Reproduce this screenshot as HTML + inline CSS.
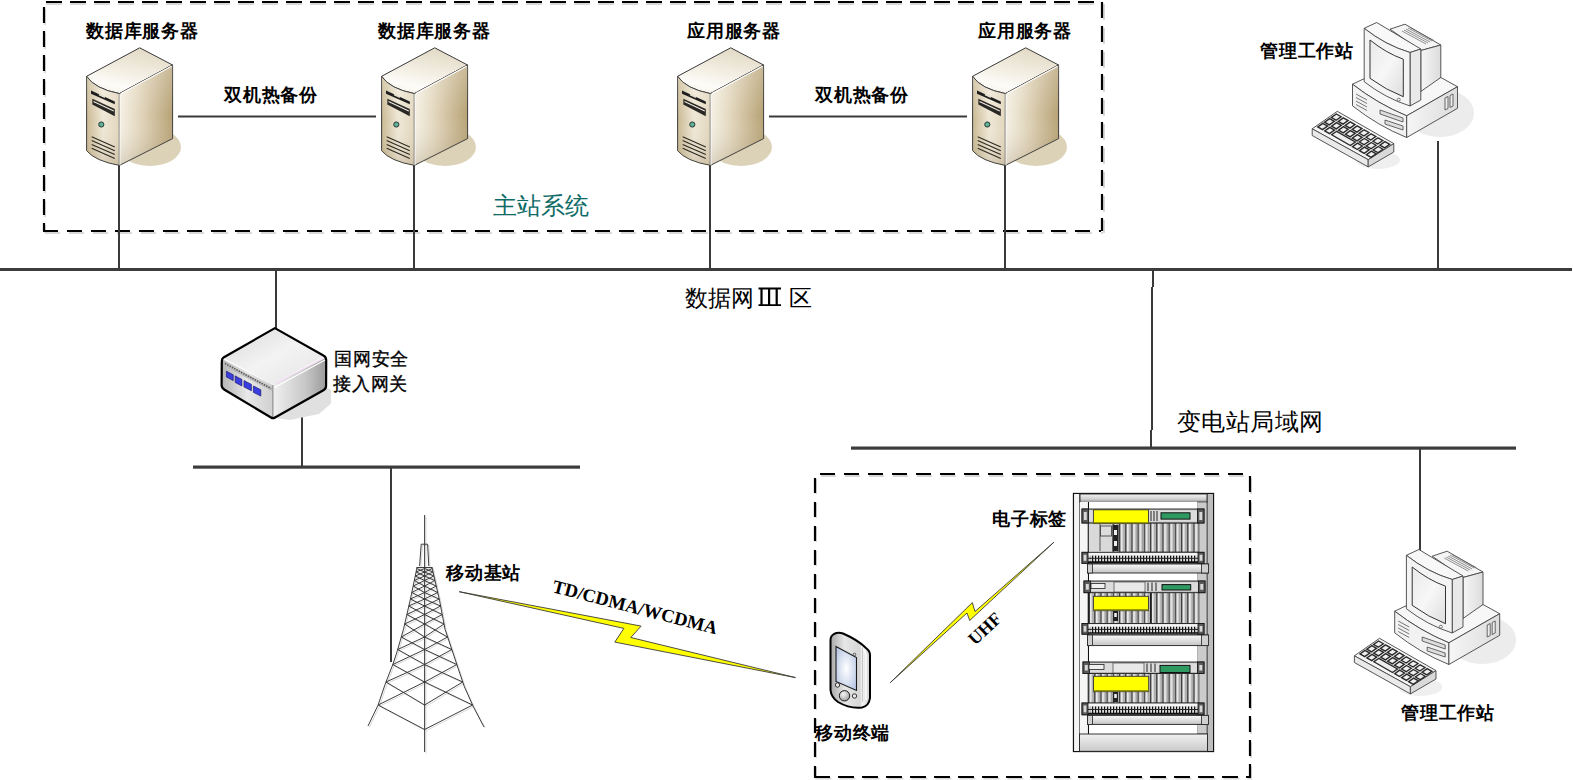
<!DOCTYPE html>
<html><head><meta charset="utf-8">
<style>
html,body{margin:0;padding:0;background:#fff;width:1573px;height:780px;overflow:hidden}
svg{display:block}
text{font-family:"Liberation Serif",serif;fill:#000}
.lb{font-size:18px;font-weight:bold}
.lr{font-size:18px}
.big{font-size:23px}
</style></head><body>
<svg width="1573" height="780" viewBox="0 0 1573 780">
<defs>
<linearGradient id="sTop" x1="0.7" y1="0" x2="0.35" y2="1">
<stop offset="0" stop-color="#e2d9c4"/><stop offset="0.55" stop-color="#f3efe4"/><stop offset="0.85" stop-color="#fdfcf9"/><stop offset="1" stop-color="#f7f3ea"/></linearGradient>
<linearGradient id="sShade" x1="0" y1="0" x2="0" y2="1">
<stop offset="0" stop-color="#ffffff" stop-opacity="0.25"/><stop offset="0.5" stop-color="#ffffff" stop-opacity="0"/><stop offset="1" stop-color="#7a6640" stop-opacity="0.22"/></linearGradient>
<linearGradient id="sSide" x1="0" y1="0" x2="1" y2="0">
<stop offset="0" stop-color="#f6f1e6"/><stop offset="0.35" stop-color="#e4d9c1"/><stop offset="1" stop-color="#b7a275"/></linearGradient>
<linearGradient id="sFront" x1="0" y1="0" x2="1" y2="0">
<stop offset="0" stop-color="#c9b891"/><stop offset="0.5" stop-color="#efe7d6"/><stop offset="1" stop-color="#e2d6bd"/></linearGradient>
<linearGradient id="gTop" x1="0" y1="0" x2="1" y2="1">
<stop offset="0" stop-color="#d8d8d8"/><stop offset="0.5" stop-color="#f3f3f3"/><stop offset="1" stop-color="#e4e4e4"/></linearGradient>
<linearGradient id="gSide" x1="0" y1="0" x2="1" y2="0">
<stop offset="0" stop-color="#f0f0f0"/><stop offset="0.6" stop-color="#c8c8c8"/><stop offset="1" stop-color="#9c9c9c"/></linearGradient>
<linearGradient id="gFront" x1="0" y1="0" x2="1" y2="0">
<stop offset="0" stop-color="#b5b5b5"/><stop offset="0.5" stop-color="#e8e8e8"/><stop offset="1" stop-color="#d0d0d0"/></linearGradient>
<linearGradient id="wSide" x1="0" y1="0" x2="1" y2="0">
<stop offset="0" stop-color="#f6f6f6"/><stop offset="1" stop-color="#dcdcdc"/></linearGradient>
<linearGradient id="screen" x1="0" y1="0" x2="1" y2="1">
<stop offset="0" stop-color="#e9e9e9"/><stop offset="0.5" stop-color="#f7f7f7"/><stop offset="1" stop-color="#dedede"/></linearGradient>
<radialGradient id="pScreen" cx="0.5" cy="0.5" r="0.6">
<stop offset="0" stop-color="#ffffff"/><stop offset="1" stop-color="#b9c8e4"/></radialGradient>
<linearGradient id="pBody" x1="0" y1="0" x2="1" y2="0">
<stop offset="0" stop-color="#a8a8a8"/><stop offset="0.35" stop-color="#e6e6e6"/><stop offset="0.75" stop-color="#d6d6d6"/><stop offset="0.8" stop-color="#f6f6f6"/><stop offset="1" stop-color="#d0d0d0"/></linearGradient>
<radialGradient id="pBtn" cx="0.4" cy="0.35" r="0.7"><stop offset="0" stop-color="#f8f8f8"/><stop offset="1" stop-color="#9a9a9a"/></radialGradient>
<linearGradient id="rackBar" x1="0" y1="0" x2="0" y2="1">
<stop offset="0" stop-color="#f2f2f2"/><stop offset="1" stop-color="#bdbdbd"/></linearGradient>
<linearGradient id="bolt" x1="0" y1="0" x2="1" y2="0">
<stop offset="0" stop-color="#ffff00"/><stop offset="1" stop-color="#ffff00"/></linearGradient>

<linearGradient id="rackBarV" x1="0" y1="0" x2="0" y2="1">
<stop offset="0" stop-color="#fafafa"/><stop offset="1" stop-color="#c4c4c4"/></linearGradient>
<linearGradient id="rackBarV2" x1="0" y1="0" x2="0" y2="1">
<stop offset="0" stop-color="#f0f0f0"/><stop offset="1" stop-color="#cacaca"/></linearGradient>
<linearGradient id="rackTop" x1="0" y1="0" x2="0" y2="1">
<stop offset="0" stop-color="#f4f4f4"/><stop offset="0.6" stop-color="#d0d0d0"/><stop offset="1" stop-color="#8c8c8c"/></linearGradient>
<pattern id="cards" x="1088" y="0" width="6.2" height="10" patternUnits="userSpaceOnUse">
<rect x="0" y="0" width="6.2" height="10" fill="#c4c4c4"/><rect x="0" y="0" width="1.5" height="10" fill="#3a3a3a"/><rect x="1.5" y="0" width="1.8" height="10" fill="#ececec"/><rect x="4.6" y="0" width="1" height="10" fill="#9a9a9a"/></pattern>
<pattern id="ticks" x="0" y="0" width="3" height="10" patternUnits="userSpaceOnUse">
<rect x="0" y="0" width="3" height="10" fill="#e0e0e0"/><rect x="0" y="0" width="1.2" height="10" fill="#111"/></pattern>
<g id="server">
<ellipse cx="150" cy="147" rx="31" ry="19" fill="#dcd2b8"/>
<path d="M139.7 47.8 L172.6 65 L119.4 93.6 Q95 89 86.6 76.3 Z" fill="url(#sTop)" stroke="#3a3a3a" stroke-width="1"/>
<path d="M86.6 76.3 Q95 89 119.4 93.6 L119.4 165.4 Q95 161 86.6 150.7 Z" fill="url(#sFront)" stroke="#3a3a3a" stroke-width="1"/>
<path d="M86.6 76.3 Q95 89 119.4 93.6 L119.4 165.4 Q95 161 86.6 150.7 Z" fill="url(#sShade)"/>
<path d="M119.4 93.6 L172.6 65 L172.6 138.6 L119.4 165.4 Z" fill="url(#sSide)" stroke="#3a3a3a" stroke-width="1"/>
<path d="M119.4 93.6 L172.6 65 L172.6 138.6 L119.4 165.4 Z" fill="url(#sShade)"/>
<path d="M121 93.5 L171.5 66.3" stroke="#ffffff" stroke-width="1.2"/>
<path d="M119.9 94 L119.9 165" stroke="#fff" stroke-width="1"/>
<path d="M91 90.5 L114.8 101.4 L114.8 104.2 L91 93.8 Z" fill="#1e1e1e"/>
<path d="M99 94.5 L105 97.2" stroke="#e8e0cf" stroke-width="1.6"/>
<path d="M92.3 98.8 L114.8 109.1 L114.8 116.2 L92.3 104.6 Z" fill="#2a2824"/>
<path d="M93.5 101.5 L113.8 111" stroke="#f2ece0" stroke-width="1.1"/>
<circle cx="101.3" cy="124.5" r="2.6" fill="#5fae98" stroke="#2a3a34" stroke-width="1"/>
<path d="M91.7 136.7 L114.8 146.9 M91.7 140.5 L114.8 150.7 M91.7 144.4 L114.8 154.6 M91.7 148.2 L114.8 158.4" stroke="#2e2a22" stroke-width="1.1"/>
</g>

<g id="ws">
<ellipse cx="1440" cy="113" rx="34" ry="24" fill="#ececec"/>
<ellipse cx="1378" cy="160" rx="22" ry="9" fill="#efefef"/>
<!-- base -->
<path d="M1352.5 84.2 L1376 73 L1440.8 77.5 L1457.5 86.7 L1406.7 115.8 Q1378 104 1352.5 84.2 Z" fill="#f7f7f7" stroke="#444" stroke-width="0.9"/>
<path d="M1352.5 84.2 Q1378 104 1406.7 115.8 L1406.7 137.5 Q1378 126 1352.5 105.8 Z" fill="#f2f2f2" stroke="#444" stroke-width="0.9"/>
<path d="M1406.7 115.8 L1457.5 86.7 L1457.5 108.3 L1406.7 137.5 Z" fill="url(#wSide)" stroke="#444" stroke-width="0.9"/>
<path d="M1356 94 L1367 100 M1356 97.5 L1367 103.5 M1356 101 L1367 107 M1356 104.5 L1367 110.5" stroke="#555" stroke-width="0.8"/>
<path d="M1380 110 L1403 118 L1403 122 L1380 114 Z" fill="#ddd" stroke="#444" stroke-width="0.8"/>
<path d="M1385 120 L1403 126 L1403 130 L1385 124 Z" fill="#ddd" stroke="#444" stroke-width="0.8"/>
<path d="M1445 98 L1445 110 L1448 108.5 L1448 96.5 Z M1450 95.5 L1450 107.5 L1453 106 L1453 94 Z" fill="#eee" stroke="#444" stroke-width="0.8"/>
<!-- monitor back -->
<path d="M1390 29.2 L1405 24.2 L1440.8 45 L1420.8 50.5 Z" fill="#f5f5f5" stroke="#444" stroke-width="0.9"/>
<path d="M1420.8 50.5 L1440.8 45 L1440.8 77.5 L1420.8 91.5 Z" fill="url(#wSide)" stroke="#444" stroke-width="0.9"/>
<path d="M1402 31 L1426 44 M1404 30 L1428 43 M1406 29 L1430 42 M1408 28 L1432 41 M1410 27.5 L1434 40.5" stroke="#666" stroke-width="0.7"/>
<!-- bezel -->
<path d="M1364.2 28.3 L1376.7 22.5 L1420.8 49 L1410 52.5 Q1385 45 1364.2 28.3 Z" fill="#f8f8f8" stroke="#444" stroke-width="0.9"/>
<path d="M1410 52.5 L1420.8 49 L1420.8 100 L1410 106 Z" fill="#e9e9e9" stroke="#444" stroke-width="0.9"/>
<path d="M1364.2 28.3 Q1385 45 1410 52.5 L1410 106 Q1385 98 1364.2 81.7 Z" fill="#f4f4f4" stroke="#444" stroke-width="0.9"/>
<path d="M1370 40 Q1386 53 1403.3 59.2 L1403.3 96.7 Q1386 90 1370 78.3 Z" fill="url(#screen)" stroke="#333" stroke-width="1"/>
<circle cx="1398.7" cy="99.7" r="1.5" fill="#fff" stroke="#444" stroke-width="0.7"/>
<!-- keyboard -->
<path d="M1312.2 128.8 L1337.3 111.3 L1393.8 143.6 L1368.2 159.7 Z" fill="#f6f6f6" stroke="#444" stroke-width="0.9"/>
<path d="M1312.2 128.8 L1368.2 159.7 L1368.2 166.9 L1312.2 135.5 Z" fill="#eaeaea" stroke="#444" stroke-width="0.9"/>
<path d="M1368.2 159.7 L1393.8 143.6 L1393.8 152 L1368.2 166.9 Z" fill="#d9d9d9" stroke="#444" stroke-width="0.9"/>
<path d="M1336.4 114.0 L1341.1 116.7 L1336.1 120.2 L1331.4 117.5ZM1343.3 117.9 L1348.1 120.6 L1343.0 124.1 L1338.3 121.4ZM1350.3 121.9 L1355.0 124.6 L1350.0 128.1 L1345.2 125.4ZM1357.2 125.9 L1361.9 128.6 L1356.9 132.1 L1352.2 129.4ZM1364.1 129.8 L1368.9 132.5 L1363.9 136.0 L1359.1 133.3ZM1371.1 133.8 L1375.8 136.5 L1370.8 140.0 L1366.1 137.3ZM1378.0 137.8 L1382.8 140.5 L1377.7 144.0 L1373.0 141.3ZM1385.0 141.7 L1389.7 144.4 L1384.7 147.9 L1379.9 145.2ZM1329.6 118.7 L1334.3 121.4 L1329.3 124.9 L1324.6 122.2ZM1336.5 122.6 L1341.3 125.4 L1336.3 128.9 L1331.5 126.1ZM1343.5 126.6 L1348.2 129.3 L1343.2 132.8 L1338.5 130.1ZM1350.4 130.6 L1355.2 133.3 L1350.1 136.8 L1345.4 134.1ZM1357.4 134.6 L1362.1 137.3 L1357.1 140.8 L1352.3 138.1ZM1364.3 138.5 L1369.0 141.2 L1364.0 144.7 L1359.3 142.0ZM1371.2 142.5 L1376.0 145.2 L1371.0 148.7 L1366.2 146.0ZM1378.2 146.5 L1382.9 149.2 L1377.9 152.7 L1373.2 150.0ZM1322.8 123.4 L1327.6 126.1 L1322.5 129.6 L1317.8 126.9ZM1329.8 127.4 L1334.5 130.1 L1329.5 133.6 L1324.7 130.9ZM1357.5 143.2 L1362.3 146.0 L1357.3 149.5 L1352.5 146.7ZM1364.5 147.2 L1369.2 149.9 L1364.2 153.4 L1359.4 150.7ZM1371.4 151.2 L1376.2 153.9 L1371.1 157.4 L1366.4 154.7ZM1336.7 131.3 L1355.3 142.0 L1350.3 145.5 L1331.7 134.8Z" fill="#eeeeee" stroke="#2a2a2a" stroke-width="1.4"/>
</g>
</defs>

<!-- dashed box 1 -->
<g stroke="#d8d8d8" stroke-width="2" fill="none">
<path d="M46 4 H1103" stroke-dasharray="16 8"/>
<path d="M45 9 V233" stroke-dasharray="16 8"/>
<path d="M45 233 H1103" stroke-dasharray="15 9"/>
<path d="M1104 4 V233" stroke-dasharray="16 8"/>
</g>
<g stroke="#000" stroke-width="2.2" fill="none">
<path d="M46 2 H1101" stroke-dasharray="16 8"/>
<path d="M44 7 V231" stroke-dasharray="16 8"/>
<path d="M43 231 H1101" stroke-dasharray="15 9"/>
<path d="M1102 2 V231" stroke-dasharray="16 8"/>
</g>
<!-- dashed box 2 -->
<g stroke="#d8d8d8" stroke-width="2" fill="none">
<path d="M821 476 H1251" stroke-dasharray="15 9"/>
<path d="M816 479 V779" stroke-dasharray="15 9"/>
<path d="M815.5 778.5 H1252" stroke-dasharray="16 8"/>
<path d="M1251 478 V779" stroke-dasharray="16 8"/>
</g>
<g stroke="#000" stroke-width="2.2" fill="none">
<path d="M820 474 H1250" stroke-dasharray="15 9"/>
<path d="M815 478 V777" stroke-dasharray="15 9"/>
<path d="M814 777 H1251" stroke-dasharray="16 8"/>
<path d="M1250 476 V777" stroke-dasharray="16 8" stroke-dashoffset="0"/>
</g>

<!-- buses -->
<g fill="#3c3c3c">
<rect x="0" y="268" width="1572" height="3"/>
<rect x="193" y="465.5" width="387" height="3.2"/>
<rect x="851" y="446.5" width="665" height="3.2"/>
</g>
<!-- connectors -->
<g stroke="#3a3a3a" stroke-width="2" fill="none">
<path d="M119 165 V269"/><path d="M414 165 V269"/><path d="M710 165 V269"/><path d="M1005 165 V269"/>
<path d="M178 116.5 H376"/><path d="M769 116.5 H967"/>
<path d="M1438 141 V269"/>
<path d="M276 270 V328"/>
<path d="M302 400 V467"/>
<path d="M391 467 V662"/>
<path d="M1153 270 V287 M1152 287 V430 M1151 430 V448"/>
<path d="M1420 448 V551"/>
</g>

<!-- servers -->
<use href="#server"/>
<use href="#server" transform="translate(295,0)"/>
<use href="#server" transform="translate(591,0)"/>
<use href="#server" transform="translate(886,0)"/>

<!-- workstations -->
<use href="#ws"/>
<use href="#ws" transform="translate(42.2,527)"/>

<!-- gateway -->
<path d="M326 387 L331 390 L331 403.5 L319 414 L290 420 L273 418 Z" fill="#e0e0e0"/>
<path d="M274.9 328.1 L323.4 356.4 L272.9 384.6 L223.1 357.7 Z" fill="url(#gTop)"/>
<path d="M222 359 L272.9 385 L272.9 418.3 L221.7 388 Z" fill="url(#gFront)"/>
<path d="M272.9 385 L325.5 358 L326 388 L272.9 418.3 Z" fill="url(#gSide)"/>
<path d="M224 362 L272 387 L272 391 L224 366 Z" fill="#bdbdbd"/>
<path d="M225 363.5 L271 388.5" stroke="#555" stroke-width="1.6" stroke-dasharray="1.4 1.2"/>
<path d="M274 384.5 L324 357.5" stroke="#f2d0f4" stroke-width="0.9"/>
<path d="M274.5 387.5 L325 360" stroke="#ffffff" stroke-width="1.2"/>
<path d="M272.9 385 V418" stroke="#666" stroke-width="0.8"/>
<path d="M274.9 328.1 L323.4 355.5 Q326.5 357 326.2 361 L326.1 386 Q326 389 323 390.5 L275 417.5 Q273 418.8 271 417.5 L224.5 389.8 Q221.6 388 221.6 385 L221.8 361.5 Q221.8 358.5 223.5 357.5 Z" fill="none" stroke="#000" stroke-width="2.2" stroke-linejoin="round"/>
<g fill="#3a3ee0" stroke="#1a1a70" stroke-width="0.7">
<path d="M226.4 371.2 L233.2 374.8 L233.2 380.6 L226.4 377 Z"/>
<path d="M235.2 375.9 L241.9 379.5 L241.9 386 L235.2 382.4 Z"/>
<path d="M244 380.6 L251.4 384.4 L251.4 390.7 L244 386.9 Z"/>
<path d="M253.4 386 L260.8 389.8 L260.8 396.1 L253.4 392.3 Z"/>
</g>

<!-- tower -->
<g fill="none" transform="translate(1.3,1.3)" stroke="#d4d4d4" stroke-width="0.9">
<path d="M417 567.5 L410.4 599.2 L403.5 629.2 L397.4 650.6 L393 664 L385 684.6 L378 705.3 L368 726 M432 567.5 L439.6 600.8 L445 629.2 L451 647 L457 665 L464.1 686 L473 706 L484 727 M424.6 515 V752 M416.5 567.5 H432.5 M421.2 544.2 H427.6 L428.8 566 M421.2 544.2 L419.6 566"/><path d="M378.1 705.0L424.6 729.5M378.1 705.0L424.6 682.0M472.6 705.0L424.6 729.5M472.6 705.0L424.6 682.0M386.0 682.0L424.6 705.0M386.0 682.0L424.6 664.5M462.7 682.0L424.6 705.0M462.7 682.0L424.6 664.5M392.8 664.5L424.6 682.0M392.8 664.5L424.6 649.5M456.8 664.5L424.6 682.0M456.8 664.5L424.6 649.5M397.7 649.5L424.6 664.5M397.7 649.5L424.6 637.0M451.8 649.5L424.6 664.5M451.8 649.5L424.6 637.0M401.3 637.0L424.6 649.5M401.3 637.0L424.6 624.0M447.6 637.0L424.6 649.5M447.6 637.0L424.6 624.0M404.7 624.0L424.6 637.0M404.7 624.0L424.6 614.5M444.0 624.0L424.6 637.0M444.0 624.0L424.6 614.5M406.9 614.5L424.6 624.0M406.9 614.5L424.6 606.0M442.2 614.5L424.6 624.0M442.2 614.5L424.6 606.0M408.8 606.0L424.6 614.5M408.8 606.0L424.6 599.0M440.6 606.0L424.6 614.5M440.6 606.0L424.6 599.0M410.4 599.0L424.6 606.0M410.4 599.0L424.6 592.5M439.2 599.0L424.6 606.0M439.2 599.0L424.6 592.5M411.8 592.5L424.6 599.0M411.8 592.5L424.6 586.0M437.7 592.5L424.6 599.0M437.7 592.5L424.6 586.0M413.2 586.0L424.6 592.5M413.2 586.0L424.6 580.5M436.2 586.0L424.6 592.5M436.2 586.0L424.6 580.5M414.3 580.5L424.6 586.0M414.3 580.5L424.6 576.0M434.9 580.5L424.6 586.0M434.9 580.5L424.6 576.0M415.3 576.0L424.6 580.5M415.3 576.0L424.6 572.0M433.9 576.0L424.6 580.5M433.9 576.0L424.6 572.0M416.1 572.0L424.6 576.0M416.1 572.0L424.6 568.5M433.0 572.0L424.6 576.0M433.0 572.0L424.6 568.5M416.8 568.5L424.6 572.0M432.2 568.5L424.6 572.0"/>
</g>
<g stroke="#333" stroke-width="0.95" fill="none">
<path d="M417 567.5 L410.4 599.2 L403.5 629.2 L397.4 650.6 L393 664 L385 684.6 L378 705.3 L368 726 M432 567.5 L439.6 600.8 L445 629.2 L451 647 L457 665 L464.1 686 L473 706 L484 727 M424.6 515 V752 M416.5 567.5 H432.5 M421.2 544.2 H427.6 L428.8 566 M421.2 544.2 L419.6 566"/>
<path d="M378.1 705.0L424.6 729.5M378.1 705.0L424.6 682.0M472.6 705.0L424.6 729.5M472.6 705.0L424.6 682.0M386.0 682.0L424.6 705.0M386.0 682.0L424.6 664.5M462.7 682.0L424.6 705.0M462.7 682.0L424.6 664.5M392.8 664.5L424.6 682.0M392.8 664.5L424.6 649.5M456.8 664.5L424.6 682.0M456.8 664.5L424.6 649.5M397.7 649.5L424.6 664.5M397.7 649.5L424.6 637.0M451.8 649.5L424.6 664.5M451.8 649.5L424.6 637.0M401.3 637.0L424.6 649.5M401.3 637.0L424.6 624.0M447.6 637.0L424.6 649.5M447.6 637.0L424.6 624.0M404.7 624.0L424.6 637.0M404.7 624.0L424.6 614.5M444.0 624.0L424.6 637.0M444.0 624.0L424.6 614.5M406.9 614.5L424.6 624.0M406.9 614.5L424.6 606.0M442.2 614.5L424.6 624.0M442.2 614.5L424.6 606.0M408.8 606.0L424.6 614.5M408.8 606.0L424.6 599.0M440.6 606.0L424.6 614.5M440.6 606.0L424.6 599.0M410.4 599.0L424.6 606.0M410.4 599.0L424.6 592.5M439.2 599.0L424.6 606.0M439.2 599.0L424.6 592.5M411.8 592.5L424.6 599.0M411.8 592.5L424.6 586.0M437.7 592.5L424.6 599.0M437.7 592.5L424.6 586.0M413.2 586.0L424.6 592.5M413.2 586.0L424.6 580.5M436.2 586.0L424.6 592.5M436.2 586.0L424.6 580.5M414.3 580.5L424.6 586.0M414.3 580.5L424.6 576.0M434.9 580.5L424.6 586.0M434.9 580.5L424.6 576.0M415.3 576.0L424.6 580.5M415.3 576.0L424.6 572.0M433.9 576.0L424.6 580.5M433.9 576.0L424.6 572.0M416.1 572.0L424.6 576.0M416.1 572.0L424.6 568.5M433.0 572.0L424.6 576.0M433.0 572.0L424.6 568.5M416.8 568.5L424.6 572.0M432.2 568.5L424.6 572.0"/>
</g>

<!-- lightning 1 -->
<path d="M459.2 591.7 L641.1 626.1 L630.8 637.5 L795.5 677.6 L614.8 642.1 L623.9 628.4 Z" fill="#ffff00" stroke="#3a3a3a" stroke-width="0.9" stroke-linejoin="miter"/>
<!-- lightning 2 -->
<path d="M890.3 682.6 L972.3 602.6 L975 611.5 L1053.8 542.3 L969.7 620.5 L967 613 Z" fill="#ffff00" stroke="#3a3a3a" stroke-width="0.9"/>

<!-- phone -->
<path d="M834 634 Q838 632 843 633.5 Q858 640 866 648 Q870 651 870 655 L870 698 Q869 706 862 707.5 Q850 709 838 702 Q831 697 830.5 690 L830.5 640 Q830.5 636 834 634 Z" fill="url(#pBody)" stroke="#000" stroke-width="2"/>
<path d="M861.5 647 Q866 652 866 656 L866 700" stroke="#ffffff" stroke-width="1.3" fill="none"/>
<path d="M862.5 647.5 V702" stroke="#bbbbbb" stroke-width="0.8" fill="none"/>
<path d="M836 646.5 L856.5 657.5 L856.5 690.5 L836 681.5 Z" fill="url(#pScreen)" stroke="#1a1a1a" stroke-width="1.1"/>
<circle cx="844.5" cy="695.8" r="5.2" fill="url(#pBtn)" stroke="#1a1a1a" stroke-width="1"/>
<circle cx="837.5" cy="685" r="2.2" fill="#e8e8e8" stroke="#222" stroke-width="0.9"/>
<circle cx="854.5" cy="696" r="2.2" fill="#e8e8e8" stroke="#222" stroke-width="0.9"/>
<circle cx="854.5" cy="654.5" r="1.3" fill="#e0e0e0" stroke="#222" stroke-width="0.7"/>

<!-- rack -->
<g id="rackg">
<rect x="1073.5" y="493.5" width="140" height="258" fill="#e2e2e2" stroke="#111" stroke-width="1.3"/>
<rect x="1074.2" y="494" width="5.5" height="257" fill="#f4f4f4"/>
<rect x="1207" y="494" width="6" height="257" fill="#bdbdbd"/>
<path d="M1079.7 494 V751 M1207 494 V751" stroke="#333" stroke-width="0.8"/>
<rect x="1080" y="494" width="127" height="8.5" fill="url(#rackTop)" stroke="#222" stroke-width="0.9"/>
<rect x="1080" y="502" width="8.5" height="232" fill="#f6f6f6"/>
<path d="M1088.5 502 V734" stroke="#111" stroke-width="1.1"/>
<rect x="1197.5" y="502" width="9.5" height="232" fill="#cbcbcb" stroke="#333" stroke-width="0.7"/>
<rect x="1089" y="502" width="108.5" height="232" fill="#ffffff"/>
<rect x="1079.5" y="734" width="128" height="17.3" fill="url(#rackBarV2)" stroke="#222" stroke-width="0.9"/>
<rect x="1088" y="523" width="111" height="29" fill="url(#cards)" stroke="#333" stroke-width="0.6"/>
<rect x="1089" y="523.5" width="23" height="28.5" fill="#d9d9d9"/>
<path d="M1100 524 V551" stroke="#555" stroke-width="1"/>
<rect x="1100.5" y="526" width="11" height="10" fill="#dcdcdc" stroke="#333" stroke-width="0.8"/>
<rect x="1112.5" y="525" width="6" height="26" fill="#222"/>
<rect x="1114" y="530" width="3" height="5" fill="#eee"/><rect x="1114" y="541" width="3" height="5" fill="#eee"/>
<rect x="1082" y="509" width="122" height="14" fill="#a9a9a9" stroke="#222" stroke-width="0.9"/>
<rect x="1089" y="510.2" width="108" height="11.6" fill="#dcdcdc"/>
<rect x="1082" y="509" width="6.5" height="14" fill="#5a5a5a" stroke="#111" stroke-width="0.8"/>
<rect x="1083.8" y="512" width="3" height="8.0" fill="#d8d8d8"/>
<rect x="1197.5" y="509" width="6.5" height="14" fill="#5a5a5a" stroke="#111" stroke-width="0.8"/>
<rect x="1199.3" y="512" width="3" height="8.0" fill="#d8d8d8"/>
<rect x="1093.4" y="509.8" width="55.09999999999991" height="13.800000000000011" fill="#ffff00" stroke="#333" stroke-width="0.9"/>
<path d="M1093.4 522.6 H1148.5" stroke="#999900" stroke-width="1.2"/>
<path d="M1151 511 V521 M1154 511 V521 M1157 511 V521" stroke="#222" stroke-width="1"/>
<rect x="1161" y="512.8" width="29" height="6.300000000000068" fill="#2e9a62" stroke="#111" stroke-width="1"/>
<rect x="1082" y="552.3" width="122" height="11.0" fill="#d0d0d0" stroke="#222" stroke-width="0.9"/>
<rect x="1088" y="553.0999999999999" width="110" height="2.6" fill="#f6f6f6"/>
<rect x="1090" y="555.6" width="106" height="6.6" fill="url(#ticks)"/>
<path d="M1088 558.3 H1198" stroke="#222" stroke-width="1"/>
<path d="M1088 562.0999999999999 H1198" stroke="#111" stroke-width="1.6"/>
<rect x="1082" y="552.3" width="6" height="11.0" fill="#5a5a5a" stroke="#111" stroke-width="0.8"/>
<rect x="1083.6" y="554.8" width="2.8" height="6.0" fill="#d8d8d8"/>
<rect x="1198" y="552.3" width="6" height="11.0" fill="#5a5a5a" stroke="#111" stroke-width="0.8"/>
<rect x="1199.6" y="554.8" width="2.8" height="6.0" fill="#d8d8d8"/>
<rect x="1087.5" y="564" width="121.0" height="9" fill="url(#rackBarV)" stroke="#222" stroke-width="0.9"/>
<rect x="1087.5" y="564" width="5" height="9" fill="#cfcfcf" stroke="#222" stroke-width="0.8"/>
<rect x="1201.5" y="564" width="7" height="9" fill="#cfcfcf" stroke="#222" stroke-width="0.8"/>
<rect x="1088" y="592.7" width="111" height="30.799999999999955" fill="url(#cards)" stroke="#333" stroke-width="0.6"/>
<rect x="1084" y="581" width="121" height="11.700000000000045" fill="#a9a9a9" stroke="#222" stroke-width="0.9"/>
<rect x="1091" y="582.2" width="107" height="9.3" fill="#dcdcdc"/>
<rect x="1084" y="581" width="6.5" height="11.700000000000045" fill="#5a5a5a" stroke="#111" stroke-width="0.8"/>
<rect x="1085.8" y="584" width="3" height="5.7" fill="#d8d8d8"/>
<rect x="1198.5" y="581" width="6.5" height="11.700000000000045" fill="#5a5a5a" stroke="#111" stroke-width="0.8"/>
<rect x="1200.3" y="584" width="3" height="5.7" fill="#d8d8d8"/>
<rect x="1091" y="583.5" width="14" height="5" fill="#f0f0f0" stroke="#222" stroke-width="0.8"/>
<rect x="1114" y="582" width="31" height="10" fill="#e8e8e8" stroke="#444" stroke-width="0.7"/>
<path d="M1148 582.5 V591 M1152 582.5 V591 M1156 582.5 V591" stroke="#222" stroke-width="1"/>
<rect x="1162" y="584.6" width="28.700000000000045" height="5.399999999999977" fill="#2e9a62" stroke="#111" stroke-width="1"/>
<rect x="1093.4" y="596.3" width="55.09999999999991" height="14.400000000000091" fill="#ffff00" stroke="#333" stroke-width="0.9"/>
<path d="M1093.4 609.7 H1148.5" stroke="#999900" stroke-width="1.2"/>
<rect x="1113" y="611" width="5" height="10" fill="#222"/><rect x="1114.2" y="613" width="2.6" height="4" fill="#eee"/>
<path d="M1089 593 V623 M1151 593 V623" stroke="#111" stroke-width="1.4"/>
<rect x="1082" y="623.5" width="122" height="10.700000000000045" fill="#d0d0d0" stroke="#222" stroke-width="0.9"/>
<rect x="1088" y="624.3" width="110" height="2.6" fill="#f6f6f6"/>
<rect x="1090" y="626.7" width="106" height="6.4" fill="url(#ticks)"/>
<path d="M1088 629.4 H1198" stroke="#222" stroke-width="1"/>
<path d="M1088 633.0 H1198" stroke="#111" stroke-width="1.6"/>
<rect x="1082" y="623.5" width="6" height="10.700000000000045" fill="#5a5a5a" stroke="#111" stroke-width="0.8"/>
<rect x="1083.6" y="626.0" width="2.8" height="5.7" fill="#d8d8d8"/>
<rect x="1198" y="623.5" width="6" height="10.700000000000045" fill="#5a5a5a" stroke="#111" stroke-width="0.8"/>
<rect x="1199.6" y="626.0" width="2.8" height="5.7" fill="#d8d8d8"/>
<rect x="1087.5" y="635" width="121.0" height="10.600000000000023" fill="url(#rackBarV)" stroke="#222" stroke-width="0.9"/>
<rect x="1087.5" y="635" width="5" height="10.600000000000023" fill="#cfcfcf" stroke="#222" stroke-width="0.8"/>
<rect x="1201.5" y="635" width="7" height="10.600000000000023" fill="#cfcfcf" stroke="#222" stroke-width="0.8"/>
<rect x="1088" y="673.5" width="111" height="29.5" fill="url(#cards)" stroke="#333" stroke-width="0.6"/>
<rect x="1083" y="662" width="121" height="11.5" fill="#a9a9a9" stroke="#222" stroke-width="0.9"/>
<rect x="1090" y="663.2" width="107" height="9.1" fill="#dcdcdc"/>
<rect x="1083" y="662" width="6.5" height="11.5" fill="#5a5a5a" stroke="#111" stroke-width="0.8"/>
<rect x="1084.8" y="665" width="3" height="5.5" fill="#d8d8d8"/>
<rect x="1197.5" y="662" width="6.5" height="11.5" fill="#5a5a5a" stroke="#111" stroke-width="0.8"/>
<rect x="1199.3" y="665" width="3" height="5.5" fill="#d8d8d8"/>
<rect x="1089" y="664.5" width="15" height="5" fill="#f0f0f0" stroke="#222" stroke-width="0.8"/>
<rect x="1113" y="663" width="31" height="10" fill="#e8e8e8" stroke="#444" stroke-width="0.7"/>
<path d="M1147 663.5 V672 M1151 663.5 V672 M1155 663.5 V672" stroke="#222" stroke-width="1"/>
<rect x="1160" y="665.4" width="30" height="7.100000000000023" fill="#2e9a62" stroke="#111" stroke-width="1"/>
<rect x="1093.5" y="676.3" width="55.200000000000045" height="15.400000000000091" fill="#ffff00" stroke="#333" stroke-width="0.9"/>
<path d="M1093.5 690.7 H1148.7" stroke="#999900" stroke-width="1.2"/>
<rect x="1113" y="692" width="5" height="10" fill="#222"/><rect x="1114.2" y="694" width="2.6" height="4" fill="#eee"/>
<rect x="1082" y="703" width="122" height="11.799999999999955" fill="#d0d0d0" stroke="#222" stroke-width="0.9"/>
<rect x="1088" y="703.8" width="110" height="2.6" fill="#f6f6f6"/>
<rect x="1090" y="706.5" width="106" height="7.1" fill="url(#ticks)"/>
<path d="M1088 709.5 H1198" stroke="#222" stroke-width="1"/>
<path d="M1088 713.5999999999999 H1198" stroke="#111" stroke-width="1.6"/>
<rect x="1082" y="703" width="6" height="11.799999999999955" fill="#5a5a5a" stroke="#111" stroke-width="0.8"/>
<rect x="1083.6" y="705.5" width="2.8" height="6.8" fill="#d8d8d8"/>
<rect x="1198" y="703" width="6" height="11.799999999999955" fill="#5a5a5a" stroke="#111" stroke-width="0.8"/>
<rect x="1199.6" y="705.5" width="2.8" height="6.8" fill="#d8d8d8"/>
<rect x="1087.5" y="715.4" width="121.0" height="9.0" fill="url(#rackBarV)" stroke="#222" stroke-width="0.9"/>
<rect x="1087.5" y="715.4" width="5" height="9.0" fill="#cfcfcf" stroke="#222" stroke-width="0.8"/>
<rect x="1201.5" y="715.4" width="7" height="9.0" fill="#cfcfcf" stroke="#222" stroke-width="0.8"/>
</g>
<!-- texts -->
<g class="lb" style="letter-spacing:0.75px">
<text x="86" y="37">数据库服务器</text>
<text x="378" y="37">数据库服务器</text>
<text x="687" y="37">应用服务器</text>
<text x="978" y="37">应用服务器</text>
<text x="224" y="101">双机热备份</text>
<text x="815" y="101">双机热备份</text>
<text x="1260" y="57">管理工作站</text>
<text x="1401" y="719">管理工作站</text>
<text x="446" y="579">移动基站</text>
<text x="815" y="739">移动终端</text>
<text x="992" y="525">电子标签</text>
</g>
<g class="lr" style="letter-spacing:0.75px;stroke:#000;stroke-width:0.35px">
<text x="334" y="365">国网安全</text>
<text x="333" y="390">接入网关</text>
</g>
<text x="493" y="213.5" style="font-size:24px;fill:#0e6b66">主站系统</text>
<text x="1177" y="430" style="font-size:24px;letter-spacing:0.4px">变电站局域网</text>
<text y="306" style="font-size:23px"><tspan x="685">数据网</tspan><tspan x="789">区</tspan></text>
<path d="M758.5 287.6 H781 V289.4 H758.5 Z M758.5 304.3 H781 V306.1 H758.5 Z M760.4 288 H762.6 V305 H760.4 Z M768 288 H770.2 V305 H768 Z M775.6 288 H777.8 V305 H775.6 Z" fill="#000"/>
<text class="lb" transform="translate(551.5,592) rotate(14.5)" style="font-size:18.5px">TD/CDMA/WCDMA</text>
<text class="lb" transform="translate(975,646) rotate(-43)" style="font-size:18px">UHF</text>
</svg>
</body></html>
